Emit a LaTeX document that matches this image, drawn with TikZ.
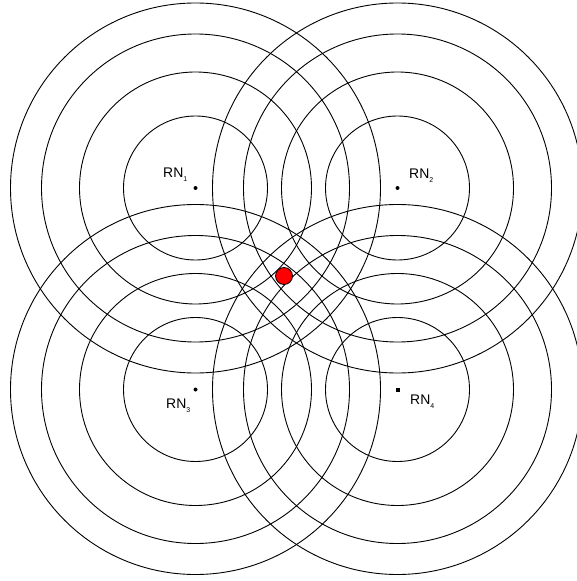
\documentclass[tikz,border=0pt]{standalone}
\usepackage{fontspec}
\setmainfont{Liberation Sans}
\newcommand{\mysub}[1]{\raisebox{-0.35em}{\fontsize{7}{8}\selectfont #1}}
\begin{document}
\begin{tikzpicture}[x=1bp,y=-1bp,
  ring/.style={draw=black,line width=0.9bp},
  dotc/.style={circle,fill=black,inner sep=0,minimum size=4bp},
  dots/.style={rectangle,fill=black,inner sep=0,minimum size=4bp},
  lbl/.style={anchor=base west,inner sep=0,font=\fontsize{14}{16}\selectfont},
  target/.style={circle,fill=red,draw=black,line width=0.8bp,inner sep=0,minimum size=17bp}]
\useasboundingbox (0,0) rectangle (577,581);
\clip (0,0) rectangle (577,581);
\foreach \cx/\cy in {195.5/188, 397.5/188, 195.5/389.5, 397.5/389.5}
  \foreach \r in {72,116,154,185}
    \draw[ring] (\cx,\cy) circle[radius=\r bp];
\node[dotc] (rn1) at (195.5,188) {};
\node[dotc] (rn2) at (397.5,188) {};
\node[dotc] (rn3) at (195.5,389.5) {};
\node[dots] (rn4) at (397.5,389.5) {};
\node[lbl] (l1) at (163,177) {RN\mysub{1}};
\node[lbl] (l2) at (409,178) {RN\mysub{2}};
\node[lbl] (l3) at (166,408) {RN\mysub{3}};
\node[lbl] (l4) at (410,404) {RN\mysub{4}};
\node[target] (mn) at (284,276) {};
\end{tikzpicture}
\end{document}
